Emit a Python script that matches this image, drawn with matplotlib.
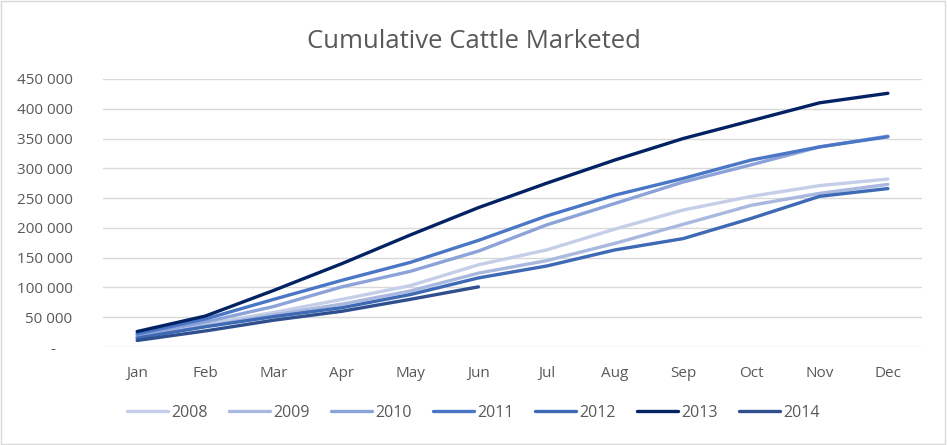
import matplotlib.pyplot as plt
from matplotlib.patches import Rectangle
from matplotlib.ticker import FuncFormatter

plt.rcParams['font.family'] = ['Open Sans', 'DejaVu Sans']

meses = ['Jan', 'Feb', 'Mar', 'Apr', 'May', 'Jun', 'Jul', 'Aug', 'Sep', 'Oct', 'Nov', 'Dec']

v2008 = [18000, 38000, 58000, 80000, 103000, 138000, 163000, 198000, 230000, 253000, 271000, 282000]
v2009 = [16000, 35000, 54000, 72000, 94000, 124000, 145000, 174000, 206000, 238000, 258000, 273000]
v2010 = [20000, 42000, 68000, 101000, 127000, 161000, 205000, 241000, 277000, 306000, 336000, 354000]
v2011 = [22000, 47000, 80000, 112000, 142000, 179000, 220000, 255000, 283000, 314000, 336000, 353000]
v2012 = [15000, 34000, 51000, 66000, 88000, 116000, 136000, 163000, 182000, 216000, 253000, 266000]
v2013 = [26000, 52000, 95000, 140000, 188000, 234000, 275000, 314000, 350000, 380000, 410000, 426000]
v2014 = [11000, 27000, 45000, 60000, 80000, 101000]

series = [('2008', v2008, '#C5CEE9'),
          ('2009', v2009, '#A8B8DF'),
          ('2010', v2010, '#8BA3D8'),
          ('2011', v2011, '#4A76C6'),
          ('2012', v2012, '#3E69B4'),
          ('2013', v2013, '#022263'),
          ('2014', v2014, '#2F4F8E')]

fig = plt.figure(figsize=(9.47, 4.45), dpi=100)
ax = fig.add_axes([0.1088, 0.2202, 0.8648, 0.6023])

for nombre, vals, color in series:
    ax.plot(meses[:len(vals)], vals, color=color, lw=2.4, label=nombre,
            solid_capstyle='round', solid_joinstyle='round')

ax.set_xlim(-0.5, 11.5)
ax.set_ylim(0, 450000)
ax.set_yticks(range(0, 450001, 50000))
ax.yaxis.set_major_formatter(FuncFormatter(
    lambda v, p: '-    ' if v == 0 else f'{int(v):,}'.replace(',', ' ')))
ax.grid(axis='y', color='#D9D9D9', lw=1)
ax.set_axisbelow(True)
for s in ax.spines.values():
    s.set_visible(False)
ax.tick_params(length=0, labelsize=11, colors='#595959')
ax.tick_params(axis='y', pad=22)
ax.tick_params(axis='x', pad=14)

fig.suptitle('Cumulative Cattle Marketed', y=0.935, fontsize=18.5, color='#595959')

fig.legend(loc='center', bbox_to_anchor=(0.5, 0.073), ncol=7, frameon=False,
           fontsize=11.5, labelcolor='#595959', handlelength=2.6,
           handletextpad=0.2, columnspacing=1.3)

fig.patches.append(Rectangle((0.001, 0.002), 0.997, 0.995, transform=fig.transFigure,
                             fill=False, edgecolor='#D9D9D9', lw=1))

plt.savefig('out.png', dpi=100)
